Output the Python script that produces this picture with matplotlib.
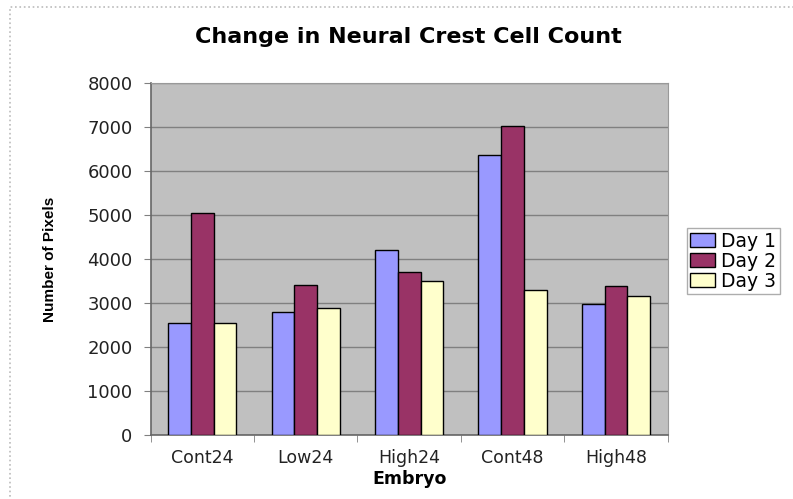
import matplotlib.pyplot as plt
import numpy as np
from matplotlib.patches import Rectangle

# data
embryos = ['Cont24', 'Low24', 'High24', 'Cont48', 'High48']
day1 = [2540, 2810, 4210, 6360, 2990]
day2 = [5060, 3420, 3700, 7020, 3380]
day3 = [2540, 2890, 3500, 3300, 3170]
series_names = ['Day 1', 'Day 2', 'Day 3']
colors = ['#9999FF', '#993366', '#FFFFCC']

plt.rcParams['font.family'] = ['DejaVu Sans']

fig = plt.figure(figsize=(7.93, 4.99), dpi=100)
ax = fig.add_axes([0.190, 0.128, 0.652, 0.705])

x = np.arange(len(embryos))
w = 0.22
for i, (vals, name, c) in enumerate(zip([day1, day2, day3], series_names, colors)):
    ax.bar(x + (i - 1) * w, vals, width=w, color=c, edgecolor='black',
           linewidth=1.0, label=name, zorder=3)

ax.set_facecolor('#C0C0C0')
ax.set_xlim(-0.5, len(embryos) - 0.5)
ax.set_ylim(0, 8000)
ax.set_yticks(np.arange(0, 8001, 1000))
ax.yaxis.grid(True, color='#808080', linewidth=1.0, zorder=0)

# category labels centred, tick marks between groups
ax.set_xticks(x)
ax.set_xticklabels(embryos, fontsize=12.5, color='#222222')
ax.tick_params(axis='x', length=0, pad=10)
ax.set_xticks(np.arange(-0.5, len(embryos), 1.0), minor=True)
ax.tick_params(axis='x', which='minor', length=5, color='#808080')
ax.tick_params(axis='y', labelsize=13, length=5, pad=8, color='#808080',
               labelcolor='#222222')

for s in ['top', 'right']:
    ax.spines[s].set_color('#999999')
for s in ['left', 'bottom']:
    ax.spines[s].set_color('#666666')
    ax.spines[s].set_linewidth(1.2)

ax.set_xlabel('Embryo', fontsize=12.5, fontweight='bold', labelpad=2)
ax.set_ylabel('Number of Pixels', fontsize=11, fontweight='bold',
              family='Liberation Sans', labelpad=22)

fig.suptitle('Change in Neural Crest Cell Count', x=0.515, y=0.945,
             fontsize=16, fontweight='bold')

leg = fig.legend(loc='upper left', bbox_to_anchor=(0.866, 0.543), fontsize=13.5,
                 frameon=True, fancybox=False, edgecolor='#999999',
                 handlelength=1.3, handleheight=0.8, handletextpad=0.35,
                 labelspacing=0.05, borderpad=0.2, borderaxespad=0)
leg.get_frame().set_linewidth(1.0)

# dotted chart border
fig.patches.append(Rectangle((10 / 793, -0.1), 1.1, 1 - 7 / 499 + 0.1,
                             transform=fig.transFigure, fill=False,
                             edgecolor='#bbbbbb', linestyle=':', linewidth=1.2))

fig.savefig('out.png', dpi=100)
